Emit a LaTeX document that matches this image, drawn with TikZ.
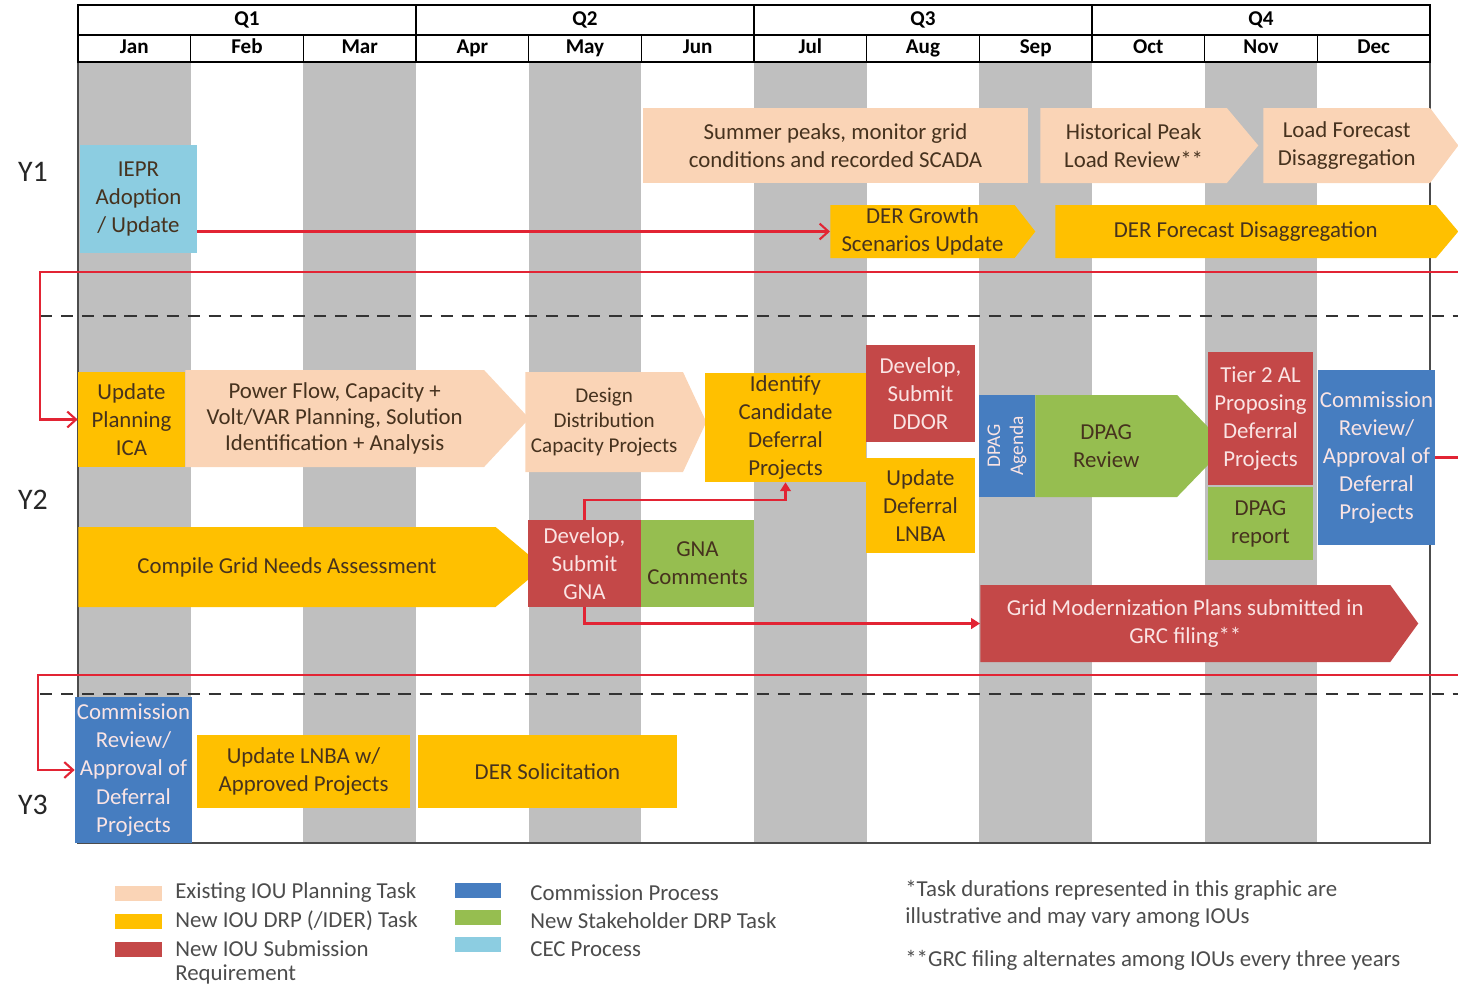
\documentclass[tikz,border=0pt]{standalone}
\usepackage{fontspec}
\setmainfont{Carlito}
\usetikzlibrary{shapes.symbols,arrows.meta}
\definecolor{taskpeach}{RGB}{250,212,182}
\definecolor{taskamber}{RGB}{255,192,0}
\definecolor{taskred}{RGB}{196,72,72}
\definecolor{taskblue}{RGB}{70,125,192}
\definecolor{taskgreen}{RGB}{150,190,80}
\definecolor{taskcyan}{RGB}{140,205,225}
\definecolor{stripegray}{RGB}{191,191,191}
\definecolor{linkred}{RGB}{226,36,52}
\definecolor{darktext}{RGB}{70,50,30}
\definecolor{lighttext}{RGB}{250,228,228}

\begin{document}
\begin{tikzpicture}[x=0.02cm,y=-0.02cm]
\tikzstyle{every node}=[font=\fontsize{13}{16}\selectfont,align=center,inner sep=0pt]
\tikzstyle{peachbox}=[rectangle,fill=taskpeach,text=darktext]
\tikzstyle{amberbox}=[rectangle,fill=taskamber,text=darktext]
\tikzstyle{redbox}=[rectangle,fill=taskred,text=lighttext]
\tikzstyle{bluebox}=[rectangle,fill=taskblue,text=lighttext]
\tikzstyle{greenbox}=[rectangle,fill=taskgreen,text=darktext]
\tikzstyle{cyanbox}=[rectangle,fill=taskcyan,text=darktext]
\tikzstyle{arrowtask}=[signal,signal to=east,anchor=west]
\tikzstyle{link}=[draw=linkred,line width=1.2pt,-{Straight Barb[length=5pt,width=9pt]}]
\tikzstyle{gnalink}=[draw=linkred,line width=1.2pt,-{Triangle[length=5pt,width=6pt]}]
\tikzstyle{yearline}=[draw=black!80,line width=1.4pt,dash pattern=on 7pt off 5pt]
\tikzstyle{quartercell}=[draw,line width=0.9pt,minimum width=6.76cm,minimum height=0.6cm,text height=1.6ex,text depth=0.4ex,font=\fontsize{12}{14}\selectfont\bfseries]
\tikzstyle{monthcell}=[draw,line width=0.9pt,minimum width=2.2533cm,minimum height=0.54cm,text height=1.6ex,text depth=0.4ex,font=\fontsize{12}{14}\selectfont\bfseries]
\tikzstyle{yearlabel}=[font=\fontsize{17}{20}\selectfont,text=black!85]
\tikzstyle{keyswatch}=[minimum width=0.94cm,minimum height=0.3cm]
\tikzstyle{keytext}=[anchor=west,align=left,text=black!70]
\useasboundingbox (0,0) rectangle (1458,985);
\fill[stripegray] (78,62) rectangle (190.7,843);
\fill[stripegray] (303.3,62) rectangle (416,843);
\fill[stripegray] (528.7,62) rectangle (641.3,843);
\fill[stripegray] (754,62) rectangle (866.7,843);
\fill[stripegray] (979.3,62) rectangle (1092,843);
\fill[stripegray] (1204.7,62) rectangle (1317.3,843);
\draw[black!70,line width=1pt] (78,62) rectangle (1430,843);
\node[quartercell] (q1) at (247,20) {Q1};
\node[quartercell] (q2) at (585,20) {Q2};
\node[quartercell] (q3) at (923,20) {Q3};
\node[quartercell] (q4) at (1261,20) {Q4};
\node[monthcell] (jan) at (134.3,48.5) {Jan};
\node[monthcell] (feb) at (247,48.5) {Feb};
\node[monthcell] (mar) at (359.7,48.5) {Mar};
\node[monthcell] (apr) at (472.3,48.5) {Apr};
\node[monthcell] (may) at (585,48.5) {May};
\node[monthcell] (jun) at (697.7,48.5) {Jun};
\node[monthcell] (jul) at (810.3,48.5) {Jul};
\node[monthcell] (aug) at (923,48.5) {Aug};
\node[monthcell] (sep) at (1035.7,48.5) {Sep};
\node[monthcell] (oct) at (1148.3,48.5) {Oct};
\node[monthcell] (nov) at (1261,48.5) {Nov};
\node[monthcell] (dec) at (1373.7,48.5) {Dec};
\draw[yearline] (40,316) -- (1458,316);
\draw[yearline] (40,694) -- (1458,694);
\node[yearlabel] (y1) at (33,172) {Y1};
\node[yearlabel] (y2) at (33,500) {Y2};
\node[yearlabel] (y3) at (33,805) {Y3};
\node[cyanbox,minimum width=2.34cm,minimum height=2.16cm] (iepr) at (138.5,199) {IEPR\\Adoption\\/ Update};
\node[peachbox,minimum width=7.7cm,minimum height=1.5cm] (summer) at (835.5,145.5) {Summer peaks, monitor grid\\conditions and recorded SCADA};
\node[peachbox,arrowtask,signal pointer angle=100,minimum width=4.36cm,minimum height=1.5cm] (histpeak) at (1040,145.5) {Historical Peak\\Load Review**};
\node[peachbox,arrowtask,signal pointer angle=106,minimum width=3.9cm,minimum height=1.5cm] (loadfc) at (1263,145.5) {Load Forecast\\Disaggregation};
\node[amberbox,arrowtask,signal pointer angle=104,minimum width=4.1cm,minimum height=1.06cm] (dergrowth) at (830,231.5) {DER Growth\\Scenarios Update};
\node[amberbox,arrowtask,signal pointer angle=100,minimum width=8.06cm,minimum height=1.06cm] (derfc) at (1055,231.5) {DER Forecast Disaggregation};
\node[amberbox,minimum width=2.14cm,minimum height=1.9cm] (ica) at (131.5,419.5) {Update\\Planning\\ICA};
\node[peachbox,arrowtask,signal pointer angle=94,minimum width=6.88cm,minimum height=1.94cm,font=\fontsize{13}{15}\selectfont] (powerflow) at (185,418.5) {Power Flow, Capacity +\\Volt/VAR Planning, Solution\\Identification + Analysis};
\node[peachbox,arrowtask,signal pointer angle=130,minimum width=3.62cm,minimum height=2cm,font=\fontsize{12}{14}\selectfont] (design) at (525,422) {Design\\Distribution\\Capacity Projects};
\node[amberbox,minimum width=3.22cm,minimum height=2.18cm] (identify) at (785.5,427.5) {Identify\\Candidate\\Deferral\\Projects};
\node[redbox,minimum width=2.18cm,minimum height=1.94cm] (ddor) at (920.5,393.5) {Develop,\\Submit\\DDOR};
\node[amberbox,minimum width=2.18cm,minimum height=1.9cm] (lnba) at (920.5,505.5) {Update\\Deferral\\LNBA};
\node[bluebox,rotate=90,minimum width=2.04cm,minimum height=1.12cm,font=\fontsize{11}{13}\selectfont] (agenda) at (1007,446) {DPAG\\Agenda};
\node[greenbox,arrowtask,signal pointer angle=92,minimum width=3.82cm,minimum height=2.04cm] (review) at (1035,446) {DPAG\\Review};
\node[redbox,minimum width=2.1cm,minimum height=2.66cm] (tier2) at (1260.5,418.5) {Tier 2 AL\\Proposing\\Deferral\\Projects};
\node[greenbox,minimum width=2.1cm,minimum height=1.46cm] (dpagrep) at (1260.5,523.5) {DPAG\\report};
\node[bluebox,minimum width=2.34cm,minimum height=3.5cm] (approve) at (1376.5,457.5) {Commission\\Review/\\Approval of\\Deferral\\Projects};
\node[amberbox,arrowtask,signal pointer angle=80,minimum width=9.3cm,minimum height=1.6cm] (compile) at (78,567) {Compile Grid Needs Assessment};
\node[redbox,minimum width=2.26cm,minimum height=1.74cm] (gna) at (584.5,563.5) {Develop,\\Submit\\GNA};
\node[greenbox,minimum width=2.26cm,minimum height=1.74cm] (gnacomm) at (697.5,563.5) {GNA\\Comments};
\node[redbox,arrowtask,signal pointer angle=108,minimum width=8.76cm,minimum height=1.54cm] (gridmod) at (980,623.5) {Grid Modernization Plans submitted in\\GRC filing**};
\node[bluebox,minimum width=2.34cm,minimum height=2.92cm] (approvey3) at (133.5,770) {Commission\\Review/\\Approval of\\Deferral\\Projects};
\node[amberbox,minimum width=4.26cm,minimum height=1.46cm] (lnbay3) at (303.5,771.5) {Update LNBA w/\\Approved Projects};
\node[amberbox,minimum width=5.18cm,minimum height=1.46cm] (dersol) at (547.5,771.5) {DER Solicitation};
\coordinate (loopa) at (1458,272);
\coordinate (loopaturn) at (40,272);
\coordinate (loopb) at (1458,675);
\coordinate (loopbturn) at (38,675);
\coordinate (approveout) at (1458,457.5);
\draw[link] (iepr.east |- dergrowth.west) -- (dergrowth.west);
\draw[link] (loopa) -- (loopaturn) |- (ica.west);
\draw[gnalink] (gna.north) -- ++(0,-20) -| (identify.south);
\draw[gnalink] (gna.south) |- (gridmod.west);
\draw[draw=linkred,line width=1.2pt] (approve.east) -- (approveout);
\draw[link] (loopb) -- (loopbturn) |- (approvey3.west);
\node[keyswatch,fill=taskpeach] (keypeach) at (138.5,893) {};
\node[keyswatch,fill=taskamber] (keyamber) at (138.5,921) {};
\node[keyswatch,fill=taskred] (keyred) at (138.5,949) {};
\node[keyswatch,fill=taskblue] (keyblue) at (478,890) {};
\node[keyswatch,fill=taskgreen] (keygreen) at (478,917) {};
\node[keyswatch,fill=taskcyan] (keycyan) at (478,944) {};
\node[keytext] (txtpeach) at (175,893) {Existing IOU Planning Task};
\node[keytext] (txtamber) at (175,921) {New IOU DRP (/IDER) Task};
\node[keytext] (txtred) at (175,949) {New IOU Submission};
\node[keytext] (txtred2) at (175,974) {Requirement};
\node[keytext] (txtblue) at (530,893) {Commission Process};
\node[keytext] (txtgreen) at (530,921) {New Stakeholder DRP Task};
\node[keytext] (txtcyan) at (530,949) {CEC Process};
\node[keytext] (note1) at (905,890) {*Task durations represented in this graphic are};
\node[keytext] (note1b) at (905,918) {illustrative and may vary among IOUs};
\node[keytext] (note2) at (905,960) {**GRC filing alternates among IOUs every three years};
\end{tikzpicture}
\end{document}
